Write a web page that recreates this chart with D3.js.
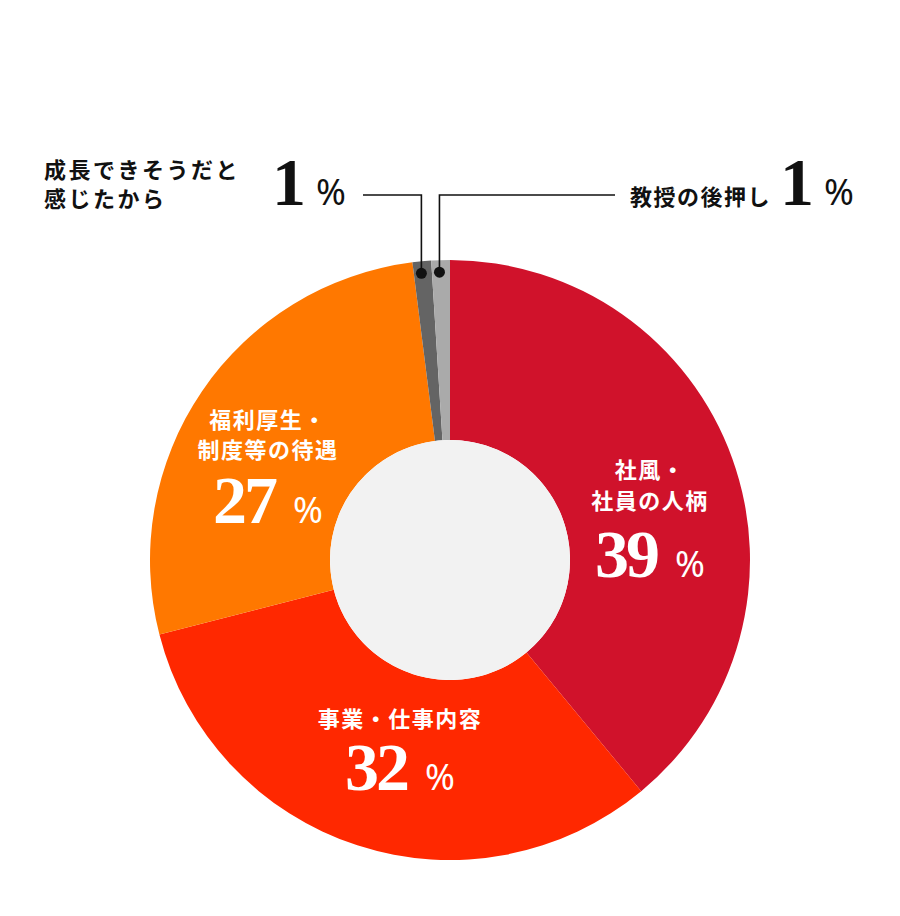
<!DOCTYPE html>
<html>
<head>
<meta charset="utf-8">
<script src="https://cdn.jsdelivr.net/npm/d3@7"></script>
<style>
  html, body { margin: 0; padding: 0; background: #fff; }
  .lbl { font-family: "Noto Sans CJK JP", sans-serif; font-weight: 700; }
  .num { font-family: "Liberation Serif", serif; font-weight: 700; }
  .pct { font-family: "Noto Sans", sans-serif; font-weight: 400; }
</style>
</head>
<body>
<div id="chart"></div>
<script>
const categories = ["社風・社員の人柄", "事業・仕事内容", "福利厚生・制度等の待遇", "成長できそうだと感じたから", "教授の後押し"];
const labelLines = [["社風・", "社員の人柄"], ["事業・仕事内容"], ["福利厚生・", "制度等の待遇"], ["成長できそうだと", "感じたから"], ["教授の後押し"]];
const values = [39, 32, 27, 1, 1];
const colors = ["#d0122b", "#ff2800", "#ff7800", "#646464", "#aaaaaa"];

const width = 900, height = 916;
const cx = 450, cy = 560, outerR = 300, innerR = 120;

const svg = d3.select("#chart")
  .append("svg")
    .attr("width", width)
    .attr("height", height);

const g = svg.append("g")
    .attr("transform", `translate(${cx}, ${cy})`);

const pie = d3.pie().sort(null).value(d => d);
const arcs = pie(values);

const arc = d3.arc().innerRadius(innerR).outerRadius(outerR);

g.selectAll("path.slice")
  .data(arcs)
  .join("path")
    .attr("class", "slice")
    .attr("fill", (d, i) => colors[i])
    .attr("d", arc);

g.append("circle")
    .attr("r", innerR)
    .attr("fill", "#f2f2f2");

// labels inside the big slices (block anchor relative to centre)
const inside = [
  {i: 0, x: 200, y: -82, lineH: 31, numY: 68},
  {i: 1, x: -50, y: 167, lineH: 31, numY: 63},
  {i: 2, x: -182, y: -132, lineH: 30, numY: 65}
];

inside.forEach(p => {
  const lines = labelLines[p.i];
  lines.forEach((t, k) => {
    g.append("text")
      .attr("class", "lbl")
      .attr("x", p.x)
      .attr("y", p.y + k * p.lineH)
      .attr("text-anchor", "middle")
      .attr("fill", "#fff")
      .attr("font-size", 22)
      .attr("letter-spacing", 1.5)
      .text(t);
  });
  const ny = p.y + (lines.length - 1) * p.lineH + p.numY;
  const t = g.append("text")
    .attr("x", p.x)
    .attr("y", ny)
    .attr("text-anchor", "middle")
    .attr("fill", "#fff");
  t.append("tspan")
    .attr("class", "num")
    .attr("font-size", 68)
    .attr("letter-spacing", -3)
    .text(values[p.i]);
  t.append("tspan")
    .attr("class", "pct")
    .attr("dx", 18)
    .attr("font-size", 36)
    .text("%");
});

// leader lines for the two small slices
const dotArc = d3.arc().innerRadius(288).outerRadius(288);
const lineY = 195 - cy;
const callouts = [
  {i: 3, endX: 363 - cx},
  {i: 4, endX: 615 - cx}
];

callouts.forEach(c => {
  const [px, py] = dotArc.centroid(arcs[c.i]);
  g.append("path")
    .attr("fill", "none")
    .attr("stroke", "#111")
    .attr("stroke-width", 1.6)
    .attr("d", d3.line()([[px - 1.5, py], [px - 1.5, lineY], [c.endX, lineY]]));
  g.append("circle")
    .attr("cx", px - 1.5)
    .attr("cy", py)
    .attr("r", 5.5)
    .attr("fill", "#111");
});

// top-left callout text
const tl = svg.append("g");
labelLines[3].forEach((t, k) => {
  tl.append("text")
    .attr("class", "lbl")
    .attr("x", 44)
    .attr("y", 178 + k * 29)
    .attr("fill", "#111")
    .attr("font-size", 22)
    .attr("letter-spacing", 2.5)
    .text(t);
});
const tlNum = tl.append("text")
  .attr("x", 272)
  .attr("y", 205)
  .attr("fill", "#111");
tlNum.append("tspan").attr("class", "num").attr("font-size", 68).text(values[3]);
tlNum.append("tspan").attr("class", "pct").attr("dx", 10).attr("font-size", 36).text("%");

// top-right callout text
const tr = svg.append("g");
tr.append("text")
  .attr("class", "lbl")
  .attr("x", 630)
  .attr("y", 205)
  .attr("fill", "#111")
  .attr("font-size", 22)
  .attr("letter-spacing", 1.5)
  .text(labelLines[4][0]);
const trNum = tr.append("text")
  .attr("x", 780)
  .attr("y", 205)
  .attr("fill", "#111");
trNum.append("tspan").attr("class", "num").attr("font-size", 68).text(values[4]);
trNum.append("tspan").attr("class", "pct").attr("dx", 10).attr("font-size", 36).text("%");
</script>
</body>
</html>
